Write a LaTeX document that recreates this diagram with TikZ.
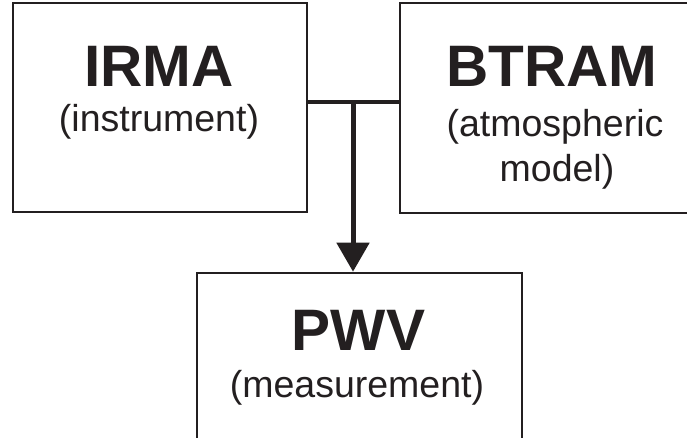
\documentclass[tikz,border=0pt]{standalone}
\usepackage{fontspec}
\setmainfont{Liberation Sans}
\usetikzlibrary{arrows.meta}
\definecolor{ink}{HTML}{231F20}
\tikzset{
  box/.style={draw=ink, line width=2.6pt, rectangle, inner sep=0pt},
  title/.style={anchor=base, inner sep=0pt, text=ink, font=\fontsize{58.5}{58.5}\selectfont\bfseries},
  sub/.style={anchor=base, inner sep=0pt, text=ink, font=\fontsize{37.5}{37.5}\selectfont},
  conn/.style={draw=ink, line width=4pt},
  arr/.style={draw=ink, line width=5pt, -{Triangle[width=32pt,length=29pt]}}
}
\begin{document}
\begin{tikzpicture}[x=1pt,y=-1pt]
\useasboundingbox (0,0) rectangle (687,438);
\clip (0,0) rectangle (687,438);
\node[box, minimum width=294pt, minimum height=209pt] (IRMA) at (160,107.5) {};
\node[box, minimum width=303pt, minimum height=210pt] (BTRAM) at (551.5,108) {};
\node[box, minimum width=325pt, minimum height=200pt] (PWV) at (359.5,373) {};
\node[title] (t1) at (159,87) {IRMA};
\node[sub] (s1) at (159,132) {(instrument)};
\node[title] (t2) at (552,87) {BTRAM};
\node[sub] (s2) at (555,137) {(atmospheric};
\node[sub] (s3) at (557,182) {model)};
\node[title] (t3) at (358.5,350) {PWV};
\node[sub] (s4) at (357,397) {(measurement)};
\coordinate (j) at (353,102);
\draw[conn] (IRMA.east |- j) -- (BTRAM.west |- j);
\draw[arr] ([yshift=-2pt]j) -- (PWV.north -| j);
\end{tikzpicture}
\end{document}
